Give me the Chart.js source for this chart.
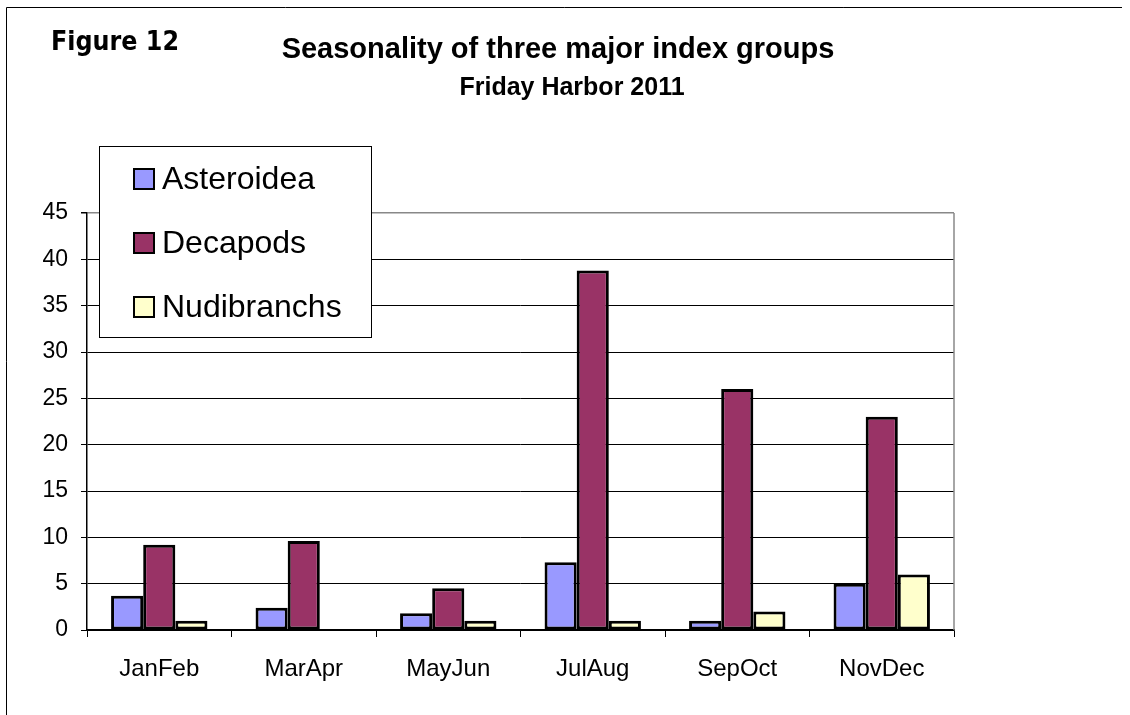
<!DOCTYPE html>
<html>
<head>
<meta charset="utf-8">
<script src="https://cdn.jsdelivr.net/npm/chart.js@4"></script>
<style>
  html, body { margin: 0; padding: 0; background: #fff; }
  #wrap { width: 1130px; height: 715px; position: relative; }
</style>
</head>
<body>
<div id="wrap"><canvas id="c" width="1130" height="715"></canvas></div>
<script>
// Two-month sampling periods
const periods = ['JanFeb', 'MarApr', 'MayJun', 'JulAug', 'SepOct', 'NovDec'];

// Counts per index group
const asteroidea  = [3.7, 2.4, 1.8, 7.3, 1, 5];
const decapods    = [9.2, 9.6, 4.5, 38.8, 26, 23];
const nudibranchs = [1, 0, 1, 1, 2, 6];

const seriesNames  = ['Asteroidea', 'Decapods', 'Nudibranchs'];
const seriesColors = ['#9999FF', '#993366', '#FFFFCC'];

const figureLabel = 'Figure 12';
const titleText   = 'Seasonality of three major index groups';
const subtitleText = 'Friday Harbor 2011';

const yMax = 45, yStep = 5;

// Page frame, headings, plot border and the boxed legend
const decorPlugin = {
  id: 'decor',
  beforeDraw(chart) {
    const ctx = chart.ctx;
    ctx.save();
    ctx.fillStyle = '#fff';
    ctx.fillRect(0, 0, chart.width, chart.height);
    ctx.strokeStyle = '#000';
    ctx.lineWidth = 1;
    ctx.beginPath();
    ctx.moveTo(6.5, 715);
    ctx.lineTo(6.5, 7.5);
    ctx.lineTo(1122, 7.5);
    ctx.stroke();
    ctx.restore();
  },
  afterDraw(chart) {
    const ctx = chart.ctx;
    const a = chart.chartArea;
    ctx.save();
    // plot area right edge
    ctx.strokeStyle = '#888';
    ctx.lineWidth = 1.5;
    ctx.beginPath();
    ctx.moveTo(a.right, a.top);
    ctx.lineTo(a.right, a.bottom);
    ctx.stroke();

    // headings
    ctx.fillStyle = '#000';
    ctx.textBaseline = 'alphabetic';
    ctx.textAlign = 'left';
    // figure label: a tall bold face, squeezed to a narrower set width
    ctx.font = 'bold 27px "DejaVu Sans"';
    const fw = ctx.measureText(figureLabel).width;
    const squeeze = Math.min(1, 128 / fw);
    ctx.save();
    ctx.translate(51, 50);
    ctx.scale(squeeze, 1);
    ctx.fillText(figureLabel, 0, 0);
    ctx.restore();

    ctx.textAlign = 'center';
    ctx.font = 'bold 29px "Liberation Sans", Arial';
    ctx.fillText(titleText, 558, 58);
    ctx.font = 'bold 25px "Liberation Sans", Arial';
    ctx.fillText(subtitleText, 572, 95);

    // legend box
    const lx = 99.5, ly = 146.5, lw = 272, lh = 191;
    ctx.fillStyle = '#fff';
    ctx.fillRect(lx, ly, lw, lh);
    ctx.strokeStyle = '#000';
    ctx.lineWidth = 1;
    ctx.strokeRect(lx, ly, lw, lh);
    const rows = [179, 243, 307];
    chart.data.datasets.forEach((ds, i) => {
      const cy = rows[i];
      ctx.fillStyle = ds.backgroundColor;
      ctx.fillRect(134, cy - 10, 20, 20);
      ctx.strokeStyle = '#000';
      ctx.lineWidth = 2;
      ctx.strokeRect(134, cy - 10, 20, 20);
      ctx.fillStyle = '#000';
      ctx.textAlign = 'left';
      ctx.textBaseline = 'middle';
      ctx.font = '32px "Liberation Sans", Arial';
      ctx.fillText(ds.label, 162, cy + 1);
    });
    ctx.restore();
  }
};

const seriesData = [asteroidea, decapods, nudibranchs];

new Chart(document.getElementById('c'), {
  type: 'bar',
  data: {
    labels: periods,
    datasets: seriesData.map((d, i) => ({
      label: seriesNames[i],
      data: d,
      backgroundColor: seriesColors[i],
      borderColor: '#000',
      borderWidth: 3,
      borderSkipped: false,
      categoryPercentage: 0.667,
      barPercentage: 1.0
    }))
  },
  options: {
    responsive: false,
    animation: false,
    devicePixelRatio: 1,
    layout: { padding: { top: 213, right: 176, bottom: 0, left: 0 } },
    plugins: {
      legend: { display: false },
      title: { display: false },
      tooltip: { enabled: false }
    },
    scales: {
      x: {
        afterFit(s) { s.height = 85; },
        grid: {
          offset: true,
          drawOnChartArea: false,
          drawTicks: true,
          tickLength: 7,
          tickColor: '#000',
          color: '#000'
        },
        border: { color: '#000', width: 1.5 },
        ticks: {
          color: '#000',
          padding: 18,
          font: { family: '"Liberation Sans", Arial', size: 24 }
        }
      },
      y: {
        min: 0,
        max: yMax,
        afterFit(s) { s.width = 87; },
        grid: {
          color: ctx => (ctx.tick && ctx.tick.value === yMax ? '#888' : '#000'),
          lineWidth: ctx => (ctx.tick && ctx.tick.value === yMax ? 1.5 : 1),
          drawTicks: true,
          tickLength: 6,
          tickColor: '#000'
        },
        border: { color: '#000', width: 1.5 },
        ticks: {
          stepSize: yStep,
          color: '#000',
          padding: 13,
          font: { family: '"Liberation Sans", Arial', size: 23 }
        }
      }
    }
  },
  plugins: [decorPlugin]
});
</script>
</body>
</html>
